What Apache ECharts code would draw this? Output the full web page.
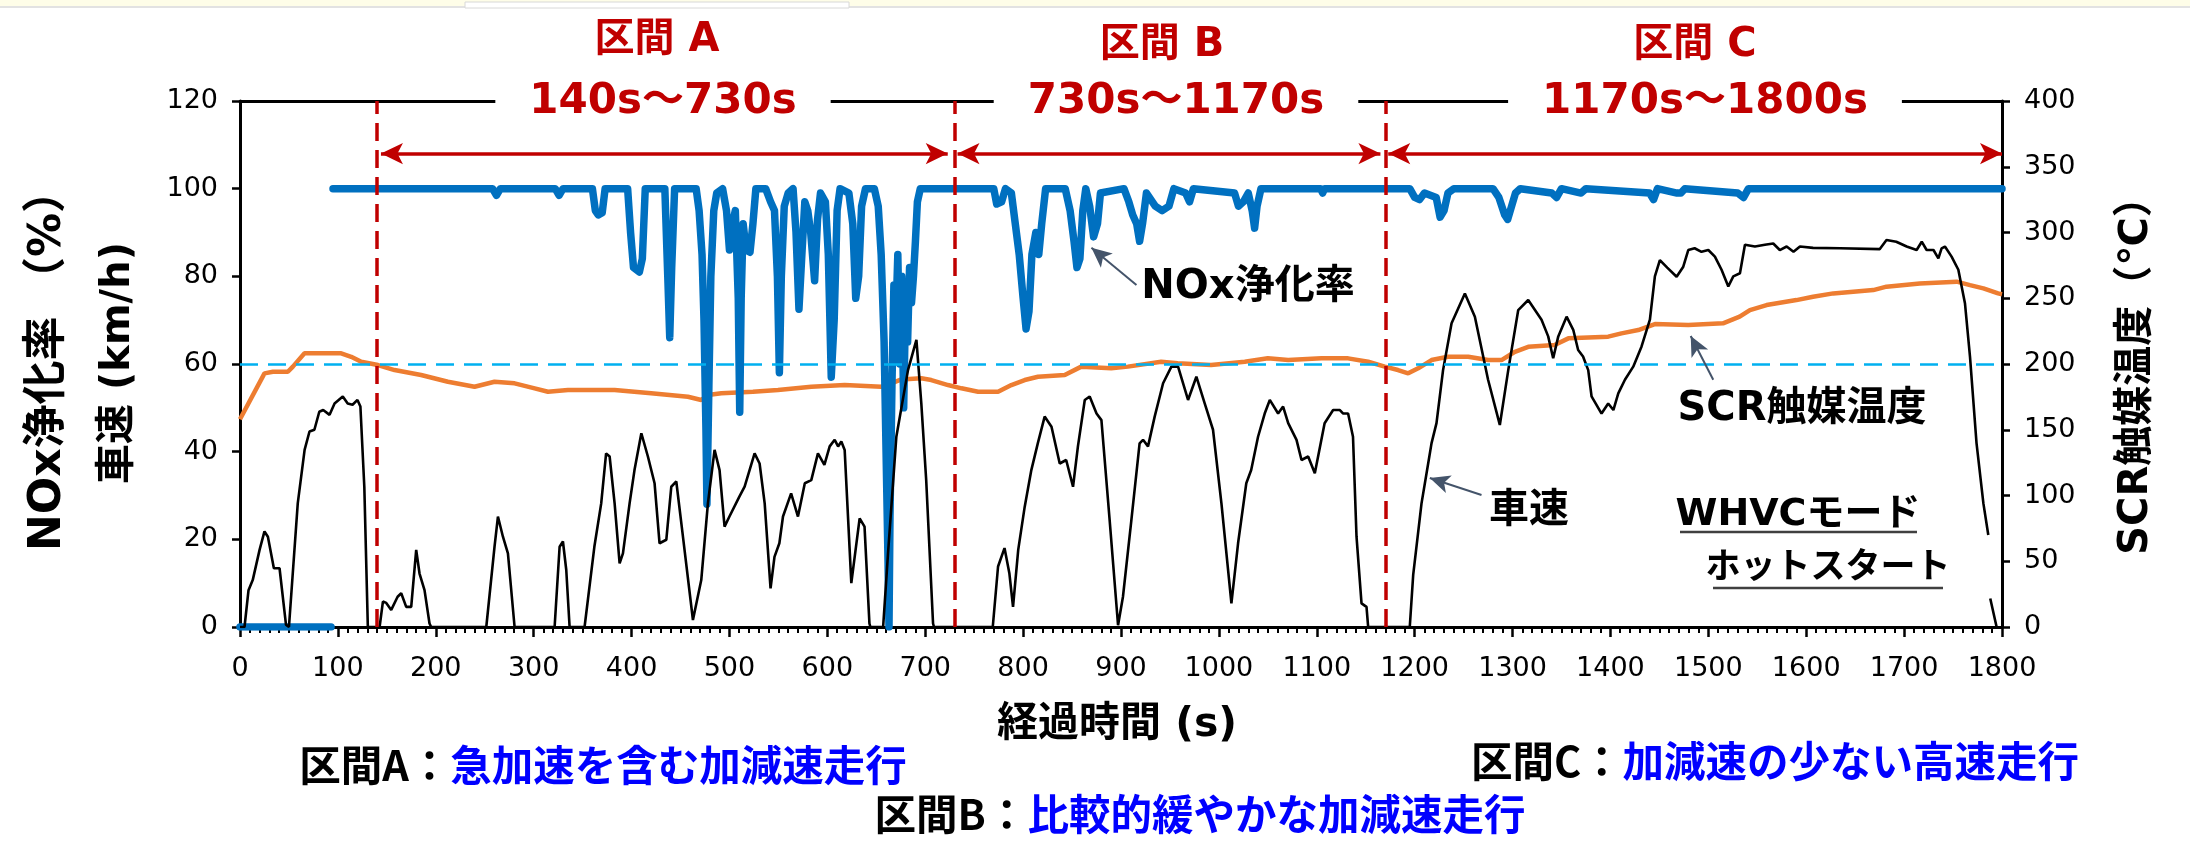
<!DOCTYPE html>
<html>
<head>
<meta charset="utf-8">
<script src="https://cdn.jsdelivr.net/npm/echarts@6/dist/echarts.min.js"></script>
<style>
html,body{margin:0;padding:0;background:#fff;overflow:hidden;}
#chart{width:2190px;height:853px;}
</style>
</head>
<body>
<div id="chart"></div>
<script>
// ---------- DATA ----------
// time axis (s)
const xMin = 0, xMax = 1800, xStep = 100;
// left axis: NOx purification rate (%) / vehicle speed (km/h)
const yLeftMin = 0, yLeftMax = 120, yLeftStep = 20;
// right axis: SCR catalyst temperature (°C)
const yRightMin = 0, yRightMax = 400, yRightStep = 50;

// section boundaries (s)
const sectionBounds = [140, 730, 1170, 1800];
const sectionNames = ['区間 A', '区間 B', '区間 C'];
const sectionRanges = ['140s～730s', '730s～1170s', '1170s～1800s'];
const thresholdTemp = 200; // °C (= 60 on left axis)

// NOx purification rate [time, %]
const noxRate = [
  [0,0],[93,0],[94,'-'],
  [95,100],[258,100],[262,98.5],[266,100],[322,100],[326,98.5],[330,100],[360,100],[363,95],[366,94],[370,94.5],[373,100],
  [396,100],[399,90],[402,82],[408,81],[411,84],[414,100],[434,100],[437,80],[439,66],[441,82],[444,100],
  [466,100],[469,95],[472,85],[474,70],[476,45],[477,28],[479,55],[481,80],[484,95],[487,99],[493,100],
  [497,95],[500,86],[503,92],[506,95],[509,75],[510.5,49],[512,75],[514,92],[517,86],[521,85.5],[524,92],[527,100],
  [537,100],[542,97],[546,95],[549,80],[551,58],[553,80],[556,96],[560,99],[565,100],[568,90],[571,72.5],[574,85],
  [577,97],[580,95],[583,90],[587,79],[590,93],[593,99],[598,97],[601,85],[604,57],[607,70],[610,95],[613,100],
  [622,99],[626,92],[629,75],[632,80],[635,96],[639,100],[648,100],[652,96],[655,85],[658,65],[660,40],[662,15],
  [663,0],[664,25],[666,55],[668,78],[670,70],[672,85],[674,60],[676,80],[678,50],[680,75],[682,65],[684,82],
  [686,74],[688,80],[690,88],[692,97],[695,100],
  [770,100],[773,96.5],[778,97],[782,100],[788,99],[792,92],[796,85],[800,75],[803,68],[806,72],[809,85],[813,90],
  [816,85],[819,92],[823,100],[843,100],[848,95],[852,88],[855,82],[858,84],[861,95],[864,100],[868,96],[872,89],
  [876,92],[879,99],[903,100],[908,97],[912,94],[916,92],[919,88],[922,92],[926,99],[935,96],[942,95],[949,96],
  [954,100],[966,99],[970,97],[974,100],[1016,99],[1020,96],[1025,97],[1030,99],[1034,95],[1036.5,91],[1039,96],
  [1043,100],[1104,100],[1106,99],[1108,100],
  [1195,100],[1200,98],[1205,97.5],[1210,99],[1222,98],[1226,93.5],[1230,95],[1234,99],[1240,100],[1280,100],
  [1286,98],[1292,94],[1295,93],[1299,96],[1303,99],[1308,100],[1340,99],[1345,98],[1350,100],[1370,99],[1375,100],
  [1440,99],[1444,97.5],[1448,100],[1468,99],[1472,99],[1476,100],[1530,99],[1536,98],[1541,100],[1800,100]
];

// Vehicle speed [time, km/h]
const vehicleSpeed = [
  [0,0],[4.6,0],[8.7,8.4],[13,10.7],[20,17.6],[25,21.8],[28.5,20.6],[34.6,13.4],[40.4,13.4],[47,0.5],[50,0],
  [59,28.2],[66,40.4],[71,44.6],[76,45],[81,49.1],[85,49.5],[91.5,48.4],[96.6,51],[105,52.6],[110,51],[115,50.7],
  [120,51.8],[123,50.3],[127,32],[130.6,0],[142.6,0],[146,5.8],[149.4,5.5],[154.5,3.9],[161,6.9],[164.7,7.7],
  [169.8,4.6],[174.9,4.6],[180,17.6],[183.4,12.2],[188.5,8.4],[193.6,0.8],[195.3,0],[251.6,0],[260,18.3],
  [263.5,25.2],[268.6,20.6],[273.7,16.8],[280.5,0],[321.4,0],[326.5,18.3],[329.9,19.5],[333.3,13],[336.7,0],
  [352,0],[362,18.3],[369,28.2],[374,39.6],[377.6,38.9],[382.7,28.2],[387.8,14.5],[391.2,16.8],[398,28.2],
  [403,35.8],[410,44.2],[416.7,38.9],[423.5,32.8],[428.6,19.1],[435.5,19.9],[440.6,32],[445.7,33.2],[452.5,20.6],
  [462.7,1.6],[471.2,10.7],[478,28.2],[484.8,40.4],[489.9,35.8],[495,22.9],[500,25.2],[510,29.7],[515.5,32],
  [525.7,39.6],[530.8,37.3],[536,28.2],[542,8.8],[546,16],[551,19.1],[554.7,25.2],[563,30.5],[570,25.2],
  [577,32.8],[583.6,33.5],[590.4,39.6],[597,37],[602.4,41.2],[607.5,42.7],[611,41.2],[614.3,42.3],[617.7,40.4],
  [624.5,10],[633,24.8],[638,22.9],[643,0.8],[644,0],[657,0],[662,16.8],[670.5,43.4],[682.4,58.6],[691,65.5],
  [696,51],[701,33.5],[708,0.8],[709,0],[769,0],[774.4,13.8],[781,18],[786,12.2],[789.7,4.6],[795,17.6],
  [801.6,27.4],[808.4,35.8],[815,41.9],[822,48],[829,45.7],[837.4,37.3],[844,38.1],[851,32],[856,41.2],
  [863,51.8],[868,52.6],[875,48.7],[880,47.2],[888.4,24.4],[897,0.4],[902,6.9],[910.6,24.4],[919,41.9],
  [922.5,42.7],[927.6,41.2],[934.4,48],[943,55.6],[951.5,59.4],[958.3,59.4],[968.5,51.8],[977,57.1],[985.5,51],
  [994,45],[1002.6,28.2],[1012.8,5.4],[1019.6,19.1],[1028,32.8],[1033,35.8],[1040,43.4],[1046.8,48.7],
  [1052,51.8],[1060.5,48.7],[1065.6,50.3],[1070.8,46.5],[1079.3,42.7],[1084.4,38.1],[1091.2,38.9],[1098,35.1],
  [1108,46.5],[1116.7,49.5],[1123.6,49.5],[1127,48.7],[1132,48.7],[1137,43.4],[1140.6,20.6],[1145.7,5.4],
  [1150.8,4.6],[1152.5,0],[1195,0],[1198.5,11.9],[1207,28.2],[1213.8,37.3],[1217.2,41.9],[1222.3,46.5],
  [1229,58.6],[1237.7,69.3],[1251.3,76.1],[1261.5,70.8],[1275,56.4],[1287,46.1],[1295.6,58.6],[1305.8,72.3],
  [1316,74.6],[1329.6,70.1],[1336.4,66.3],[1341.5,61.3],[1346.7,66.3],[1355.2,70.8],[1362,67.8],[1367,63.2],
  [1372,61.7],[1377.3,58.6],[1380.7,52.6],[1390.9,48.7],[1397.7,51],[1403,49.5],[1408,53.3],[1414.8,56.4],
  [1423.3,59.4],[1431.8,64],[1440.3,70.1],[1445.4,80],[1450.5,83.7],[1458,82],[1467.6,79.9],[1474.4,82.2],
  [1479.5,86],[1486,86.4],[1493,85.6],[1500,86],[1506.7,84.5],[1513.5,81.5],[1520.4,77.7],[1525.5,80],
  [1532.3,80.7],[1537.4,87.2],[1547.6,86.8],[1557.8,87.2],[1566.3,87.5],[1573,86],[1580,86.8],[1587,85.6],
  [1593.6,86.8],[1607,86.5],[1634.5,86.4],[1675,86.2],[1682,88.3],[1692,87.9],[1702.6,86.8],[1712.8,86],
  [1718,87.9],[1723,86],[1730,86],[1735,84.1],[1738.3,86.4],[1741.7,86.8],[1748.5,84.5],[1755.4,81.5],
  [1762.2,73.8],[1767.3,61.7],[1774,41.9],[1781,28.2],[1786,21],[1787,'-'],[1788,6.5],[1794.5,0]
];

// SCR catalyst temperature [time, °C]
const scrTemp = [
  [0,158],[1.2,158.6],[25,192.9],[33.6,194.1],[48.9,194.1],[54,198],[65.9,208.1],[103.4,208.1],[113.6,205.5],
  [123.8,201.7],[140.9,199.2],[157.9,195.4],[185,191.6],[212.4,186.5],[239.6,182.7],[260,186.5],[280.5,185.3],
  [301,181.5],[314.6,178.9],[335,180.2],[382.7,180.2],[420,177.7],[457.6,175.1],[471.2,172.6],[478,176.4],
  [491.7,177.7],[524,178.9],[549.6,180.2],[583.6,182.7],[617.7,184],[655,182.7],[665.4,185.3],[675.6,188.3],
  [696,189.1],[706.2,187.8],[723.3,184],[737,181.5],[754,178.9],[774.4,178.9],[788,184],[801.6,187.8],
  [815.2,190.3],[842.5,191.6],[859.5,198],[890,196.7],[907,198],[941,201.7],[958,200.5],[992,199.2],
  [1026.4,201.7],[1050,204.3],[1070.8,203],[1104.8,204.3],[1132,204.3],[1152.5,201.7],[1169.5,198],
  [1183,195.4],[1193.4,192.9],[1203.6,196.7],[1217.2,203],[1234,205.5],[1254.7,205.5],[1275,203],[1288.7,203],
  [1302.4,209.3],[1316,213.1],[1343,214.4],[1357,219.5],[1397.7,220.8],[1411.3,223.3],[1428.4,225.8],
  [1445.4,230.4],[1479.5,229.6],[1515,230.9],[1532,236],[1542.5,241],[1559.5,244.8],[1590,248.6],[1607,251.2],
  [1627.6,253.7],[1668.5,256.2],[1682,258.8],[1716,261.3],[1753.7,262.6],[1767.3,260],[1781,257.5],
  [1796,253.7],[1800,253]
];

// annotation arrows: [tail, head] in (time, left-axis value)
const noxArrow = [[915.8,78],[869.8,86.5]];
const scrArrow = [[1505,56.4],[1482,66.4]];
const speedArrow = [[1268.3,30.1],[1215.5,34]];
const sectionArrowY = 108;
const sectionArrowEnds = [[144,723],[733,1165],[1173,1800]];

// ---------- STYLE ----------
const RED = '#C00000';
const BLUE_TXT = '#0000FF';
const LAT = '"DejaVu Sans","Noto Sans CJK JP",sans-serif';
const CJK = '"Noto Sans CJK JP","DejaVu Sans",sans-serif';

const chart = echarts.init(document.getElementById('chart'), null, {renderer:'canvas'});

const redDash = {color: RED, width: 3.5, type: [18, 9]};
const redSolid = {color: RED, width: 3.5, type: 'solid'};
const grayArrow = {color: '#44546A', width: 2, type: 'solid'};

const markData = [];
sectionBounds.slice(0,3).forEach(v => markData.push({xAxis: v, lineStyle: redDash}));
sectionArrowEnds.forEach(([a,b]) => markData.push([
  {coord:[a, sectionArrowY], symbol:'arrow', symbolSize:[16,22], lineStyle: redSolid},
  {coord:[b, sectionArrowY], symbol:'arrow', symbolSize:[16,22], lineStyle: redSolid}
]));
[noxArrow, scrArrow, speedArrow].forEach(([t,h]) => markData.push([
  {coord:t, symbol:'none', lineStyle: grayArrow},
  {coord:h, symbol:'arrow', symbolSize:[14,20], lineStyle: grayArrow}
]));

function txt(text, x, y, size, color, opts) {
  return Object.assign({
    type:'text', x:x, y:y, z:100,
    style: Object.assign({
      text:text, fill:color, fontSize:size, fontWeight:'bold', fontFamily:LAT,
      align:'center', verticalAlign:'middle'
    }, (opts && opts.style) || {})
  }, (opts && opts.el) || {});
}

const graphics = [];
// screenshot strip at the very top of the reference
graphics.push({type:'rect', z:0, shape:{x:0,y:0,width:2190,height:6}, style:{fill:'#FEFDE8'}});
graphics.push({type:'line', z:0, shape:{x1:0,y1:7,x2:465,y2:7}, style:{stroke:'#D8D8D8', lineWidth:1.5}});
graphics.push({type:'line', z:0, shape:{x1:849,y1:7,x2:2190,y2:7}, style:{stroke:'#D8D8D8', lineWidth:1.5}});
graphics.push({type:'rect', z:0, shape:{x:465,y:2,width:384,height:6}, style:{fill:'#fff', stroke:'#D8D8D8', lineWidth:1}});
// section titles
const titleX = [657, 1162, 1695], titleY = [41, 46, 46];
const rangeX = [663, 1176, 1705];
sectionNames.forEach((n,i) => graphics.push(txt(n, titleX[i], titleY[i], 40, RED)));
sectionRanges.forEach((r,i) => graphics.push(txt(r, rangeX[i], 102, 42, RED,
  {style:{backgroundColor:'#fff', padding:[6,34]}})));
// curve labels
graphics.push(txt('NOx浄化率', 1248, 288, 40, '#000'));
graphics.push(txt('SCR触媒温度', 1802, 410, 40, '#000'));
graphics.push(txt('車速', 1529, 512, 40, '#000'));
graphics.push(txt('WHVCモード', 1798, 515, 38, '#000'));
graphics.push(txt('ホットスタート', 1828, 569, 35, '#000'));
graphics.push({type:'line', z:100, shape:{x1:1680,y1:532,x2:1917,y2:532}, style:{stroke:'#404040', lineWidth:2.5}});
graphics.push({type:'line', z:100, shape:{x1:1713,y1:588,x2:1943,y2:588}, style:{stroke:'#404040', lineWidth:2.5}});
// axis titles
graphics.push(txt('NOx浄化率 （%）', 49, 360, 44, '#000', {el:{rotation:Math.PI/2}}));
graphics.push(txt('車速 (km/h)', 119, 363, 40, '#000', {el:{rotation:Math.PI/2}}));
graphics.push(txt('SCR触媒温度（℃）', 2137, 366, 40, '#000', {el:{rotation:Math.PI/2}}));
graphics.push(txt('経過時間 (s)', 1117, 725, 41, '#000'));
// bottom notes
function note(label, desc, x, y) {
  const f = 41.5;
  return {type:'text', x:x, y:y, z:100, style:{
    text:'{k|'+label+'}{v|'+desc+'}', align:'center', verticalAlign:'middle',
    fontSize:f, fontWeight:'bold', fontFamily:CJK,
    rich:{k:{fill:'#000', fontSize:f, fontWeight:'bold', fontFamily:CJK},
          v:{fill:BLUE_TXT, fontSize:f, fontWeight:'bold', fontFamily:CJK}}
  }};
}
graphics.push(note('区間A：', '急加速を含む加減速走行', 603, 765));
graphics.push(note('区間B：', '比較的緩やかな加減速走行', 1200, 814));
graphics.push(note('区間C：', '加減速の少ない高速走行', 1775, 761));

const tickFont = {color:'#000', fontSize:27, fontFamily:'"DejaVu Sans",sans-serif', formatter: v => String(v)};

chart.setOption({
  animation: false,
  backgroundColor: '#fff',
  grid: {left: 240, right: 188, top: 101, bottom: 226},
  xAxis: [{
    type:'value', min:xMin, max:xMax, interval:xStep, position:'bottom',
    axisLine:{show:true, onZero:false, lineStyle:{color:'#000', width:3}},
    axisTick:{show:true, length:10, lineStyle:{color:'#000', width:2.5}},
    minorTick:{show:true, splitNumber:10, length:6, lineStyle:{color:'#000', width:2}},
    axisLabel:Object.assign({margin:28}, tickFont),
    splitLine:{show:false}
  },{
    type:'value', min:xMin, max:xMax, position:'top',
    axisLine:{show:true, onZero:false, lineStyle:{color:'#000', width:3}},
    axisTick:{show:false}, axisLabel:{show:false}, splitLine:{show:false}
  }],
  yAxis: [{
    type:'value', min:yLeftMin, max:yLeftMax, interval:yLeftStep, position:'left',
    axisLine:{show:true, onZero:false, lineStyle:{color:'#000', width:3}},
    axisTick:{show:true, length:8, lineStyle:{color:'#000', width:2.5}},
    axisLabel:Object.assign({margin:22}, tickFont),
    splitLine:{show:false}
  },{
    type:'value', min:yRightMin, max:yRightMax, interval:yRightStep, position:'right',
    axisLine:{show:true, onZero:false, lineStyle:{color:'#000', width:3}},
    axisTick:{show:true, length:8, lineStyle:{color:'#000', width:2.5}},
    axisLabel:Object.assign({margin:22}, tickFont),
    splitLine:{show:false}
  }],
  series: [{
    name:'SCR触媒温度', type:'line', yAxisIndex:1, data:scrTemp, showSymbol:false, z:2,
    lineStyle:{color:'#ED7D31', width:4.5},
    markLine:{silent:true, symbol:['none','none'], label:{show:false},
      data:[{yAxis:thresholdTemp, lineStyle:{color:'#00B0F0', width:2.5, type:[18,10]}}]}
  },{
    name:'NOx浄化率', type:'line', yAxisIndex:0, data:noxRate, showSymbol:false, z:3, connectNulls:false,
    lineStyle:{color:'#0070C0', width:7.5, cap:'round', join:'round'}
  },{
    name:'車速', type:'line', yAxisIndex:0, data:vehicleSpeed, showSymbol:false, z:4, connectNulls:false,
    lineStyle:{color:'#000', width:2.6},
    markLine:{silent:true, symbol:['none','none'], label:{show:false}, data:markData}
  }],
  graphic: graphics
});
</script>
</body>
</html>
